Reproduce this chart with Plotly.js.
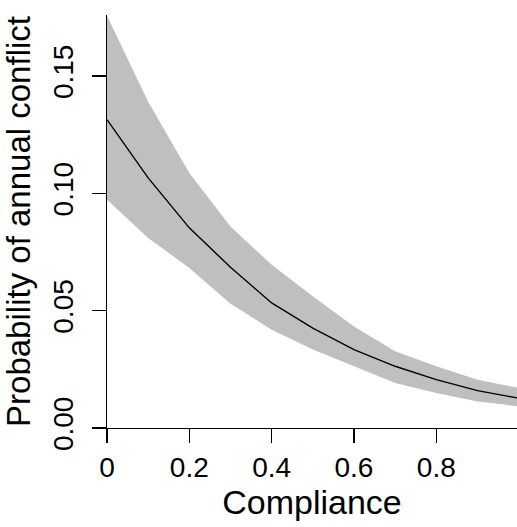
<!DOCTYPE html>
<html>
<head>
<meta charset="utf-8">
<script src="https://cdn.plot.ly/plotly-3.0.1.min.js"></script>
<style>html,body{margin:0;padding:0;background:#fff;}#chart{width:517px;height:527px;}</style>
</head>
<body>
<div id="chart"></div>
<script>
const compliance = [0, 0.1, 0.2, 0.3, 0.4, 0.5, 0.6, 0.7, 0.8, 0.9, 1.0];
const fitted = [0.1314, 0.1066, 0.0853, 0.0685, 0.0533, 0.0426, 0.0334, 0.0263, 0.0206, 0.0159, 0.0127];
const upperCI = [0.1757, 0.1390, 0.1087, 0.0859, 0.0696, 0.0561, 0.0433, 0.0327, 0.0263, 0.0206, 0.0171];
const lowerCI = [0.0973, 0.0810, 0.0682, 0.0530, 0.0419, 0.0334, 0.0263, 0.0192, 0.0149, 0.0113, 0.0092];
const xTickVals = [0, 0.2, 0.4, 0.6, 0.8];
const xTickText = ['0', '0.2', '0.4', '0.6', '0.8'];
const yTickVals = [0, 0.05, 0.10, 0.15];
const yTickText = ['0.00', '0.05', '0.10', '0.15'];

const FONT = 'Liberation Sans, Arial, sans-serif';
const traces = [
  {x: compliance, y: lowerCI, type: 'scatter', mode: 'lines', line: {width: 0, color: '#bfbfbf'}, hoverinfo: 'skip', showlegend: false},
  {x: compliance, y: upperCI, type: 'scatter', mode: 'lines', fill: 'tonexty', fillcolor: '#bfbfbf', line: {width: 0, color: '#bfbfbf'}, hoverinfo: 'skip', showlegend: false},
  {x: compliance, y: fitted, type: 'scatter', mode: 'lines', line: {width: 1.4, color: '#000000'}, showlegend: false}
];

const layout = {
  width: 517, height: 527,
  margin: {l: 107, r: 0, t: 15, b: 99, pad: 0},
  paper_bgcolor: '#ffffff', plot_bgcolor: '#ffffff',
  font: {family: FONT, color: '#000'},
  xaxis: {
    range: [0, 0.996], showgrid: false, zeroline: false,
    showline: true, linecolor: '#000', linewidth: 1.3, mirror: false,
    ticks: 'outside', ticklen: 14, tickwidth: 1.3, tickcolor: '#000',
    tickvals: xTickVals, ticktext: xTickText,
    tickfont: {size: 28, family: FONT, color: '#000'},
    ticklabelstandoff: 0,
    title: {text: 'Compliance', font: {size: 34, family: FONT, color: '#000'}, standoff: 8},
    automargin: false, fixedrange: true
  },
  yaxis: {
    range: [0, 0.176], showgrid: false, zeroline: false,
    showline: true, linecolor: '#000', linewidth: 1.3, mirror: false,
    ticks: 'outside', ticklen: 14, tickwidth: 1.3, tickcolor: '#000',
    tickvals: yTickVals, ticktext: yTickText, tickangle: -90,
    tickfont: {size: 28, family: FONT, color: '#000'},
    ticklabelstandoff: 8,
    title: {text: 'Probability of annual conflict', font: {size: 33, family: FONT, color: '#000'}, standoff: 8},
    automargin: false, fixedrange: true
  },
  showlegend: false
};

Plotly.newPlot('chart', traces, layout, {displayModeBar: false, staticPlot: true});
</script>
</body>
</html>
